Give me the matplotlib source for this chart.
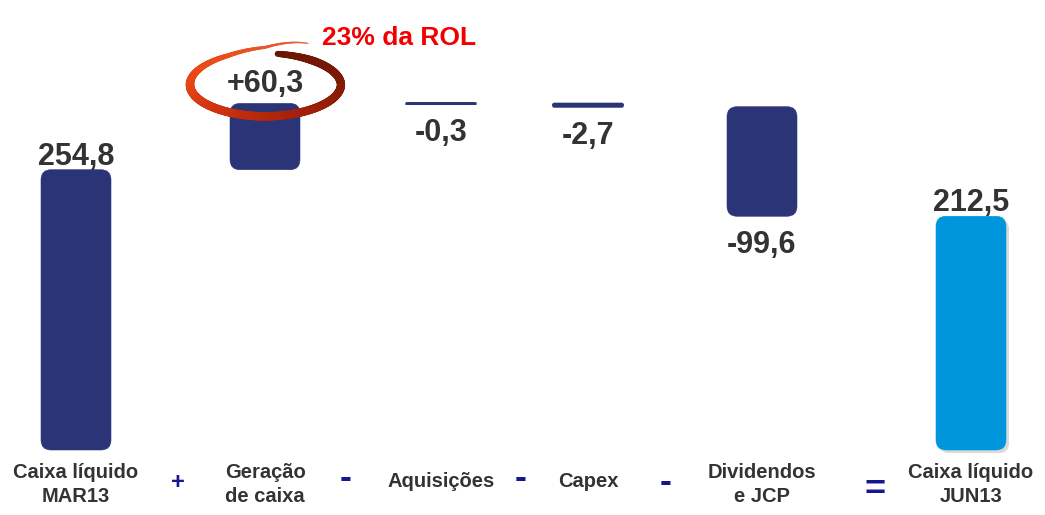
import numpy as np
import matplotlib
matplotlib.use("Agg")
import matplotlib.pyplot as plt
from matplotlib.patches import FancyBboxPatch
from matplotlib.collections import LineCollection
from matplotlib.colors import LinearSegmentedColormap

# ---------------- data ----------------
categories = ["Caixa líquido\nMAR13", "Geração\nde caixa", "Aquisições", "Capex",
              "Dividendos\ne JCP", "Caixa líquido\nJUN13"]
values = [254.8, 60.3, -0.3, -2.7, -99.6, 212.5]
kinds = ["total", "delta", "delta", "delta", "delta", "total"]
value_labels = ["254,8", "+60,3", "-0,3", "-2,7", "-99,6", "212,5"]
operators = ["+", "-", "-", "-", "="]
callout_text = "23% da ROL"

# ---------------- layout / style ----------------
W, H = 1045, 515
x_pos = [76, 265, 441, 588, 762, 971]
op_x = [178, 346, 521, 666, 875]
op_center_row = [481, 479, 479, 483, 488]
bar_w = 70
base_px = 450          # pixel row of zero
px_per_unit = 1.1
NAVY = "#2C3478"
LIGHT = "#0096DC"
TXT = "#333333"
OPC = "#16168E"
FONT = "Liberation Sans"
PT = 72 / 100          # points per pixel at dpi 100

fig = plt.figure(figsize=(W / 100, H / 100), dpi=100)
ax = fig.add_axes([0, 0, 1, 1])
ax.set_xlim(0, W)
ax.set_ylim(-(H - base_px) / px_per_unit, base_px / px_per_unit)
ax.axis("off")


def row(yd):
    """data y -> pixel row"""
    return base_px - yd * px_per_unit


def dy(row_px):
    """pixel row -> data y"""
    return (base_px - row_px) / px_per_unit


run = 0.0
tops = []
label_rows = []
for i, (v, k) in enumerate(zip(values, kinds)):
    if k == "total":
        lo, hi = 0.0, v
        run = v
        color = NAVY if i == 0 else LIGHT
    else:
        lo, hi = sorted([run, run + v])
        run += v
        color = NAVY
    h_px = (hi - lo) * px_per_unit
    r = min(10, h_px / 2)
    lw = 1.5 if h_px < 6 else 0.4
    x0 = x_pos[i] - bar_w / 2
    if color == LIGHT:
        sh = FancyBboxPatch((x0 + 3, lo - 3 / px_per_unit), bar_w, hi - lo,
                            boxstyle=f"round,pad=0,rounding_size={r}",
                            mutation_aspect=1 / px_per_unit,
                            fc="#9A9A9A", ec="none", alpha=0.35, zorder=1)
        ax.add_patch(sh)
    p = FancyBboxPatch((x0, lo), bar_w, hi - lo,
                       boxstyle=f"round,pad=0,rounding_size={r}",
                       mutation_aspect=1 / px_per_unit,
                       fc=color, ec=color, lw=lw, zorder=2)
    ax.add_patch(p)
    tops.append((lo, hi))
    if v >= 0:
        off = 5 if k == "total" else 11
        ax.annotate(value_labels[i], (x_pos[i], hi), xytext=(0, off * PT),
                    textcoords="offset points", ha="center", va="baseline",
                    fontsize=22, fontweight="bold", color=TXT, family=FONT, zorder=5)
        label_rows.append(row(hi) - off - 11)
    else:
        ax.annotate(value_labels[i], (x_pos[i], lo), xytext=(0, -37 * PT),
                    textcoords="offset points", ha="center", va="baseline",
                    fontsize=22, fontweight="bold", color=TXT, family=FONT, zorder=5)
        label_rows.append(row(lo) + 37 - 11)

# category labels
for i, c in enumerate(categories):
    top_row = 463 if "\n" in c else 472
    ax.text(x_pos[i], dy(top_row), c, ha="center", va="top", fontsize=14.5,
            fontweight="bold", color=TXT, family=FONT, linespacing=1.3)

# operators
op_size = {"+": 17, "-": 26, "=": 26}
op_center_em = {"+": 0.35, "-": 0.25, "=": 0.34}
for sym, x, rc in zip(operators, op_x, op_center_row):
    fs = op_size[sym]
    base_row = rc + op_center_em[sym] * fs / PT
    ax.text(x, dy(base_row), sym, ha="center", va="baseline", fontsize=fs,
            fontweight="bold", color=OPC, family=FONT)

# callout ellipse around the +60,3 label
cx, cy = x_pos[1], label_rows[1] + 3
t = np.radians(np.linspace(-80, 305, 400))
tk = np.radians([-80, 0, 90, 180, 240, 270, 305])
b = np.interp(t, tk, [31, 31, 32, 31, 33, 37, 50])
a = np.interp(t, tk, [73, 76, 76, 75, 75, 75, 75])
xs = cx + a * np.cos(t)
ys_row = cy + b * np.sin(t)
pts = np.column_stack([xs, dy(ys_row)])
segs = np.stack([pts[:-1], pts[1:]], axis=1)
tm = (t[:-1] + t[1:]) / 2
lw_px = np.interp(tm, np.radians([-80, -50, 90, 180, 235, 280, 305]), [6, 8, 8.5, 8.5, 5, 2.2, 1])
cmap = LinearSegmentedColormap.from_list(
    "ring", [(0, "#6A1604"), (0.2, "#7E1A05"), (0.4, "#A82208"), (0.55, "#D03210"),
             (0.7, "#E84614"), (0.85, "#E8501E"), (1, "#E4603A")])
frac = (tm - tm.min()) / (tm.max() - tm.min())
lc = LineCollection(segs, linewidths=lw_px * PT, colors=cmap(frac), capstyle="round",
                    zorder=4)
ax.add_collection(lc)

ax.text(cx + 134, dy(cy - 46), callout_text, ha="center", va="center", fontsize=19,
        fontweight="bold", color="#F20000", family=FONT)

fig.savefig("out.png", dpi=100)
